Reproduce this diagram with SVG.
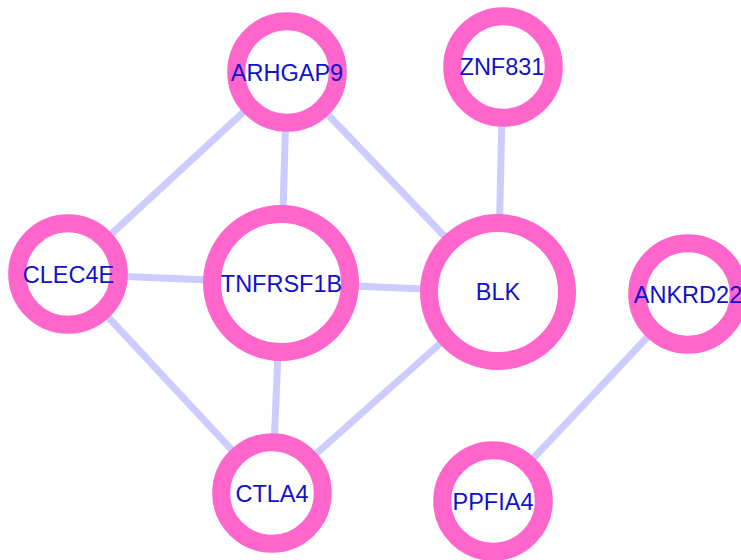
<svg xmlns="http://www.w3.org/2000/svg" width="741" height="560" viewBox="0 0 741 560">
<style>
.edge{stroke:#ccccff;stroke-width:7;fill:none}
.ring{fill:#ffffff;stroke:#ff66cc;stroke-width:18}
.lbl{font-family:"Liberation Sans",Arial,sans-serif;font-size:23.5px;fill:#1111cc;text-anchor:middle}
</style>
<rect width="741" height="560" fill="#ffffff"/>
<g id="edges">
<line class="edge" x1="287" y1="72" x2="68" y2="274"/>
<line class="edge" x1="287" y1="72" x2="281" y2="283"/>
<line class="edge" x1="287" y1="72" x2="498" y2="292"/>
<line class="edge" x1="503" y1="67" x2="498" y2="292"/>
<line class="edge" x1="68" y1="274" x2="281" y2="283"/>
<line class="edge" x1="68" y1="274" x2="272" y2="493"/>
<line class="edge" x1="281" y1="283" x2="498" y2="292"/>
<line class="edge" x1="281" y1="283" x2="272" y2="493"/>
<line class="edge" x1="498" y1="292" x2="272" y2="493"/>
<line class="edge" x1="688" y1="294" x2="493" y2="501"/>
</g>
<g id="node-ARHGAP9"><circle class="ring" cx="287" cy="72" r="50.8"/><text class="lbl" x="287" y="81">ARHGAP9</text></g>
<g id="node-ZNF831"><circle class="ring" cx="503" cy="67" r="50.8"/><text class="lbl" x="502" y="75">ZNF831</text></g>
<g id="node-CLEC4E"><circle class="ring" cx="68" cy="274" r="50.8"/><text class="lbl" x="68.5" y="283">CLEC4E</text></g>
<g id="node-TNFRSF1B"><circle class="ring" cx="281" cy="283" r="69"/><text class="lbl" x="281.5" y="291.5">TNFRSF1B</text></g>
<g id="node-BLK"><circle class="ring" cx="498" cy="292" r="69"/><text class="lbl" x="498" y="299.5">BLK</text></g>
<g id="node-ANKRD22"><circle class="ring" cx="688" cy="294" r="50.8"/><text class="lbl" x="688" y="302.5">ANKRD22</text></g>
<g id="node-CTLA4"><circle class="ring" cx="272" cy="493" r="50.8"/><text class="lbl" x="272" y="501.5">CTLA4</text></g>
<g id="node-PPFIA4"><circle class="ring" cx="493" cy="501" r="50.8"/><text class="lbl" x="493" y="509.5">PPFIA4</text></g>
</svg>
